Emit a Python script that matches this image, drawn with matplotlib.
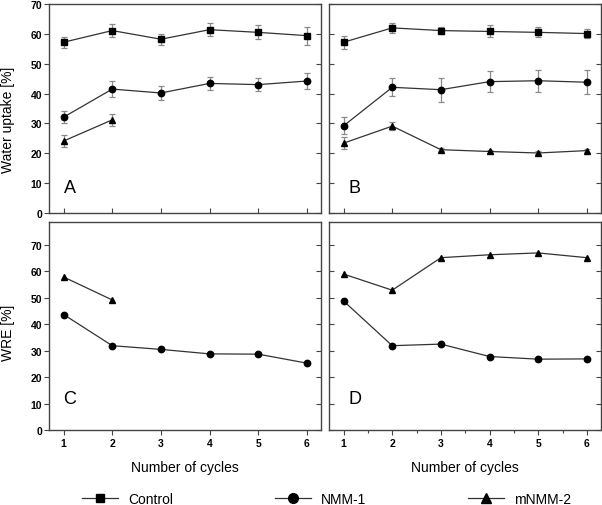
import matplotlib
matplotlib.use("Agg")
import matplotlib.pyplot as plt
from matplotlib.lines import Line2D
from matplotlib.ticker import MultipleLocator

plt.rcParams['font.family'] = ['Liberation Sans', 'DejaVu Sans']

cycles = [1, 2, 3, 4, 5, 6]
cycles_m2_short = [1, 2]

# Panel A: water uptake, first setup
A_control = [57.2, 61.1, 58.2, 61.4, 60.5, 59.4]
A_control_err = [1.9, 2.1, 1.9, 2.1, 2.3, 3.0]
A_nmm1 = [32.1, 41.5, 40.2, 43.4, 43.0, 44.2]
A_nmm1_err = [1.9, 2.7, 2.5, 2.1, 2.3, 2.6]
A_mnmm2 = [24.1, 31.2]
A_mnmm2_err = [2.0, 1.9]

# Panel B: water uptake, second setup
B_control = [57.2, 62.0, 61.1, 60.8, 60.5, 60.1]
B_control_err = [2.2, 1.7, 1.1, 2.0, 1.7, 1.6]
B_nmm1 = [29.2, 42.1, 41.3, 44.0, 44.3, 43.8]
B_nmm1_err = [2.9, 3.0, 4.0, 3.6, 3.7, 4.0]
B_mnmm2 = [23.4, 29.1, 21.2, 20.6, 20.1, 20.9]
B_mnmm2_err = [1.9, 1.3, 0.5, 0.5, 0.5, 0.5]

# Panel C: WRE
C_nmm1 = [43.7, 31.9, 30.5, 28.8, 28.7, 25.3]
C_mnmm2 = [57.9, 49.2]

# Panel D: WRE
D_nmm1 = [48.8, 31.9, 32.5, 27.8, 26.8, 26.9]
D_mnmm2 = [59.0, 52.9, 65.2, 66.3, 67.0, 65.2]

labels = ['Control', 'NMM-1', 'mNMM-2']
markers = ['s', 'o', '^']
msizes = [4.0, 4.6, 5.0]

W, H = 602, 506
fig = plt.figure(figsize=(W / 100, H / 100), dpi=100)

def ax_at(l, r, t, b):
    return fig.add_axes([l / W, 1 - b / H, (r - l) / W, (b - t) / H])

axA = ax_at(49, 321, 5, 214)
axB = ax_at(329, 601, 5, 214)
axC = ax_at(49, 321, 223, 431)
axD = ax_at(329, 601, 223, 431)

lc = '#333333'
ec = '#8a8a8a'
spc = '#444444'

def series(ax, x, y, m, ms, err=None):
    if err is not None:
        ax.errorbar(x, y, yerr=err, fmt='none', ecolor=ec, elinewidth=0.9,
                    capsize=2.3, capthick=0.9, zorder=2)
    ax.plot(x, y, color=lc, lw=0.9, marker=m, ms=ms, mfc='black',
            mec='black', zorder=3)

series(axA, cycles, A_control, 's', msizes[0], A_control_err)
series(axA, cycles, A_nmm1, 'o', msizes[1], A_nmm1_err)
series(axA, cycles_m2_short, A_mnmm2, '^', msizes[2], A_mnmm2_err)

series(axB, cycles, B_control, 's', msizes[0], B_control_err)
series(axB, cycles, B_nmm1, 'o', msizes[1], B_nmm1_err)
series(axB, cycles, B_mnmm2, '^', msizes[2], B_mnmm2_err)

series(axC, cycles, C_nmm1, 'o', msizes[1])
series(axC, cycles_m2_short, C_mnmm2, '^', msizes[2])

series(axD, cycles, D_nmm1, 'o', msizes[1])
series(axD, cycles, D_mnmm2, '^', msizes[2])

for ax in (axA, axB, axC, axD):
    ax.set_xlim(0.7, 6.29)
    ax.set_xticks(cycles)
    for s in ax.spines.values():
        s.set_color(spc)
        s.set_linewidth(1.0)
    ax.tick_params(colors=spc, width=0.8, length=3.5, labelcolor='black',
                   labelsize=7.5)

for ax in (axA, axB):
    ax.set_ylim(0, 70)
    ax.set_yticks(range(0, 71, 10))
for ax in (axC, axD):
    ax.set_ylim(0, 78.7)
    ax.set_yticks(range(0, 71, 10))

axA.tick_params(axis='y', direction='out', left=True, right=False, labelleft=True, pad=1.5)
axA.tick_params(axis='x', direction='in', bottom=True, labelbottom=False)
axB.tick_params(axis='y', direction='in', left=True, right=False, labelleft=False)
axB.tick_params(axis='x', direction='in', bottom=True, labelbottom=False)
axC.tick_params(axis='y', direction='out', left=True, right=False, labelleft=True, pad=1.5)
axC.tick_params(axis='x', direction='out', bottom=True, labelbottom=True, pad=2)
axD.tick_params(axis='y', direction='in', left=True, right=False, labelleft=False)
axD.tick_params(axis='x', direction='out', bottom=True, labelbottom=True, pad=2)
axD.xaxis.set_minor_locator(MultipleLocator(0.5))
axD.tick_params(axis='x', which='minor', direction='out', length=2.2,
                width=0.8, colors=spc)

# right-side inward ticks via twin axes
for ax in (axA, axB, axC, axD):
    tw = ax.twinx()
    tw.set_ylim(ax.get_ylim())
    tw.set_yticks(range(0, 71, 10))
    tw.tick_params(axis='y', direction='in', length=3.5, width=0.8,
                   colors=spc, labelright=False)
    for s in tw.spines.values():
        s.set_visible(False)

for ax in (axA, axB, axC, axD):
    for lab in ax.get_xticklabels() + ax.get_yticklabels():
        lab.set_fontweight('bold')

axA.text(1.0, 7.0, 'A', fontsize=13, va='baseline', ha='left')
axB.text(1.1, 7.0, 'B', fontsize=13, va='baseline', ha='left')
axC.text(1.0, 10.2, 'C', fontsize=13, va='baseline', ha='left')
axD.text(1.1, 10.2, 'D', fontsize=13, va='baseline', ha='left')

axA.set_ylabel('Water uptake [%]', fontsize=10)
axC.set_ylabel('WRE [%]', fontsize=10)
axA.yaxis.set_label_coords(-0.125, 0.45)
axC.yaxis.set_label_coords(-0.125, 0.47)
axC.set_xlabel('Number of cycles', fontsize=10, labelpad=9)
axD.set_xlabel('Number of cycles', fontsize=10, labelpad=9)

handles = [Line2D([], [], color=lc, lw=0.9, marker=m, ms=s, mfc='black',
                  mec='black') for m, s in zip(markers, [6.0, 7.0, 7.5])]
fig.legend(handles, labels, loc='center left', bbox_to_anchor=(82 / W, 1 - 500 / H),
           ncol=3, frameon=False, fontsize=10, handlelength=2.6,
           handletextpad=0.7, columnspacing=7.35, borderpad=0, borderaxespad=0)

fig.savefig('out.png', dpi=100)
